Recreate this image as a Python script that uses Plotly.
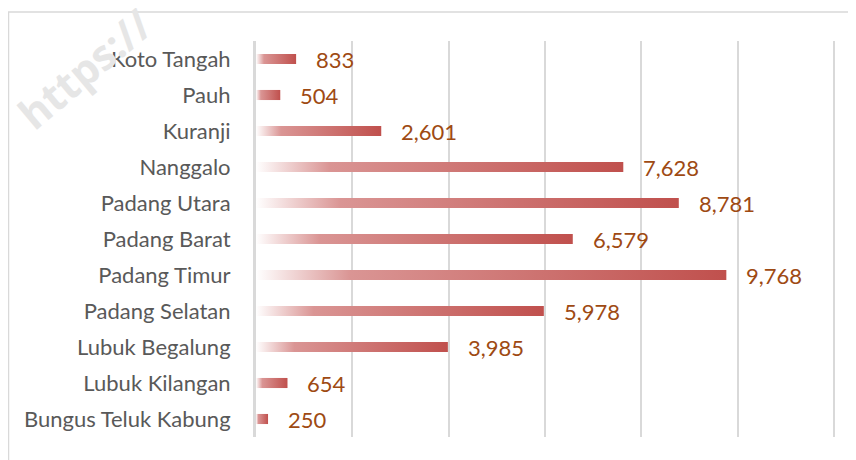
import plotly.graph_objects as go

categories = ["Bungus Teluk Kabung", "Lubuk Kilangan", "Lubuk Begalung", "Padang Selatan",
              "Padang Timur", "Padang Barat", "Padang Utara", "Nanggalo", "Kuranji", "Pauh",
              "Koto Tangah"]
values = [250, 654, 3985, 5978, 9768, 6579, 8781, 7628, 2601, 504, 833]
x_ticks = [0, 2000, 4000, 6000, 8000, 10000, 12000]

FONT = "Lato"
BAR_RED = "#C0504D"
LABEL_COL = "#9E4A13"
GRID = "#D9D9D9"
HALF = 0.14

# page body has an 8px margin: figure drawn at screen offset (8, 8)
OFF = 8
W, H = 856 - OFF, 460 - OFF
L, R, T, B = 256 - OFF, 21, 41 - OFF, 23
pw, ph = W - L - R, H - T - B

fig = go.Figure()
for i, (c, v) in enumerate(zip(categories, values)):
    fig.add_trace(go.Scatter(
        x=[0, v, v, 0, 0], y=[i - HALF, i - HALF, i + HALF, i + HALF, i - HALF],
        mode="lines", fill="toself", line=dict(width=0, color="rgba(0,0,0,0)"),
        fillgradient=dict(type="horizontal",
                          colorscale=[[0, "rgba(255,255,255,1)"], [0.2, "#DA9594"], [1, BAR_RED]]),
        hoverinfo="skip", showlegend=False))
    fig.add_annotation(x=v, y=i, text=f"{v:,}", showarrow=False, xanchor="left",
                       xshift=18, font=dict(family=FONT, size=22, color=LABEL_COL))

def px_x(p):
    return (p - OFF - L) / pw

def px_y(p):
    return (H - B - (p - OFF)) / ph

fig.add_shape(type="rect", xref="paper", yref="paper",
              x0=px_x(8.5), x1=px_x(870), y0=px_y(480), y1=px_y(12),
              line=dict(color=GRID, width=1.5), fillcolor="rgba(0,0,0,0)", layer="below")

fig.add_annotation(xref="paper", yref="paper", x=px_x(84), y=px_y(68), text="<b>https://</b>",
                   xanchor="center", yanchor="middle",
                   showarrow=False, textangle=-40, font=dict(family="Open Sans", size=42, color="#E6E6E6"))

fig.update_layout(
    width=W, height=H, margin=dict(l=L, r=R, t=T, b=B, autoexpand=False),
    paper_bgcolor="white", plot_bgcolor="white",
    xaxis=dict(range=[0, 12025], tickvals=x_ticks, showticklabels=False, showgrid=True,
               gridcolor=GRID, gridwidth=2, zeroline=False, showline=False, fixedrange=True),
    yaxis=dict(range=[-0.5, len(categories) - 0.5], tickvals=list(range(len(categories))),
               ticktext=categories, showgrid=False, zeroline=False, showline=True,
               linecolor=GRID, linewidth=3, ticks="", ticklabelstandoff=18,
               tickfont=dict(family=FONT, size=22, color="#595959")),
)
fig.write_html("out.html")
